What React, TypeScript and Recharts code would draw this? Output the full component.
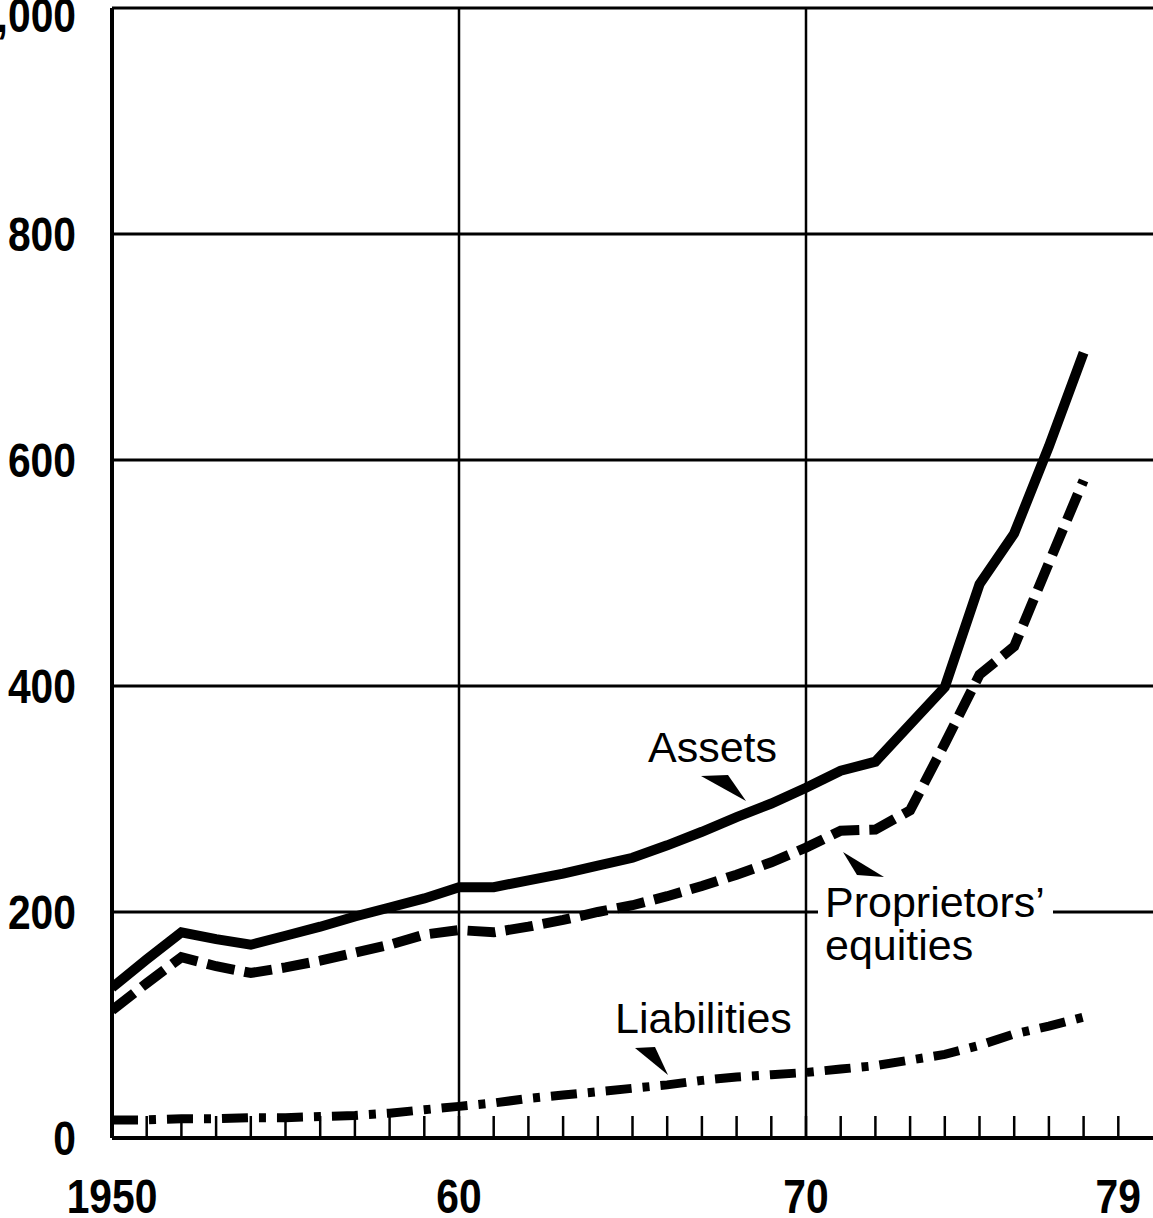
import React from 'react';
import { LineChart, Line, XAxis, YAxis, CartesianGrid, ReferenceLine } from 'recharts';

const years = [
  1950, 1951, 1952, 1953, 1954, 1955, 1956, 1957, 1958, 1959,
  1960, 1961, 1962, 1963, 1964, 1965, 1966, 1967, 1968, 1969,
  1970, 1971, 1972, 1973, 1974, 1975, 1976, 1977, 1978,
];
const assets = [
  133, 158, 182, 176, 171, 179, 187, 196, 204, 212,
  222, 222, 228, 234, 241, 248, 259, 271, 284, 296,
  310, 325, 333, 366, 399, 490, 535, 612, 695,
];
const equities = [
  113, 137, 160, 152, 146, 151, 157, 164, 171, 180,
  184, 182, 187, 193, 200, 206, 214, 223, 233, 244,
  257, 272, 273, 290, 349, 410, 435, 509, 582,
];
const liabilities = [
  16, 16, 17, 17, 18, 18, 19, 20, 22, 25,
  28, 31, 35, 38, 41, 44, 47, 51, 54, 56,
  58, 61, 64, 69, 74, 82, 92, 99, 107,
];

const yTicks = [0, 200, 400, 600, 800, 1000];
const yTickLabels = ['0', '200', '400', '600', '800', '1,000'];
const xTicks = [
  1950, 1951, 1952, 1953, 1954, 1955, 1956, 1957, 1958, 1959,
  1960, 1961, 1962, 1963, 1964, 1965, 1966, 1967, 1968, 1969,
  1970, 1971, 1972, 1973, 1974, 1975, 1976, 1977, 1978, 1979,
];
const xTickLabels: Record<number, string> = { 1950: '1950', 1960: '60', 1970: '70', 1979: '79' };
const gridYears = [1960, 1970];

const data = years.map((year, i) => ({
  year,
  assets: assets[i],
  equities: equities[i],
  liabilities: liabilities[i],
}));

const FONT = '"Liberation Sans", Arial, Helvetica, sans-serif';

const XTick = (props: any) => {
  const { x, y, payload } = props;
  const label = xTickLabels[payload.value];
  return (
    <g>
      <line x1={x} x2={x} y1={y} y2={y - 22} stroke="#000" strokeWidth={2.5} />
      {label ? (
        <g transform={`translate(${x},${y + 75})`}>
          <text
            transform="scale(0.85,1)"
            textAnchor="middle"
            fontFamily={FONT}
            fontWeight="bold"
            fontSize={48}
            fill="#000"
          >
            {label}
          </text>
        </g>
      ) : null}
    </g>
  );
};

const YTick = (props: any) => {
  const { x, y, payload } = props;
  const idx = yTicks.indexOf(payload.value);
  const label = idx >= 0 ? yTickLabels[idx] : String(payload.value);
  const dy = payload.value === 1000 ? 24 : 17;
  return (
    <g transform={`translate(${x - 36},${y + dy})`}>
      <text
        transform="scale(0.85,1)"
        textAnchor="end"
        fontFamily={FONT}
        fontWeight="bold"
        fontSize={48}
        fill="#000"
      >
        {label}
      </text>
    </g>
  );
};

export default function App() {
  return (
    <div style={{ position: 'absolute', left: 0, top: 0, width: 1153, height: 1218, background: '#fff', overflow: 'hidden' }}>
      <LineChart
        width={1153}
        height={1218}
        data={data}
        margin={{ top: 8, right: 0, bottom: 0, left: 0 }}
      >
        <CartesianGrid vertical={false} stroke="#000" strokeWidth={3} />
        {gridYears.map((yr) => (
          <ReferenceLine key={yr} x={yr} stroke="#000" strokeWidth={2.5} />
        ))}
        <XAxis
          dataKey="year"
          type="number"
          domain={[1950, 1980]}
          ticks={xTicks}
          interval={0}
          tickLine={false}
          tickSize={0}
          tickMargin={0}
          axisLine={{ stroke: '#000', strokeWidth: 4 }}
          height={80}
          tick={<XTick />}
          allowDataOverflow
        />
        <YAxis
          type="number"
          domain={[0, 1000]}
          ticks={yTicks}
          interval={0}
          tickLine={false}
          tickSize={0}
          tickMargin={0}
          axisLine={{ stroke: '#000', strokeWidth: 4 }}
          width={112}
          tick={<YTick />}
          allowDataOverflow
        />
        <Line
          type="linear"
          dataKey="liabilities"
          stroke="#000"
          strokeWidth={9}
          strokeDasharray="26 11 7 11"
          dot={false}
          activeDot={false}
          isAnimationActive={false}
        />
        <Line
          type="linear"
          dataKey="equities"
          stroke="#000"
          strokeWidth={10}
          strokeDasharray="28 10"
          dot={false}
          activeDot={false}
          isAnimationActive={false}
        />
        <Line
          type="linear"
          dataKey="assets"
          stroke="#000"
          strokeWidth={10}
          dot={false}
          activeDot={false}
          isAnimationActive={false}
        />
      </LineChart>
      <svg
        width={1153}
        height={1218}
        style={{ position: 'absolute', left: 0, top: 0, pointerEvents: 'none' }}
      >
        <text x={648} y={762} fontSize={43} fontFamily={FONT} fill="#000">Assets</text>
        <polygon points="701,776 728,775 746,801" fill="#000" />
        <rect x={818} y={906} width={235} height={14} fill="#fff" />
        <text x={825} y={917} fontSize={43} fontFamily={FONT} fill="#000">Proprietors’</text>
        <text x={825} y={960} fontSize={43} fontFamily={FONT} fill="#000">equities</text>
        <polygon points="843,852 857,875 884,877" fill="#000" />
        <text x={615} y={1033} fontSize={43} fontFamily={FONT} fill="#000">Liabilities</text>
        <polygon points="635,1048 655,1047 668,1075" fill="#000" />
      </svg>
    </div>
  );
}
